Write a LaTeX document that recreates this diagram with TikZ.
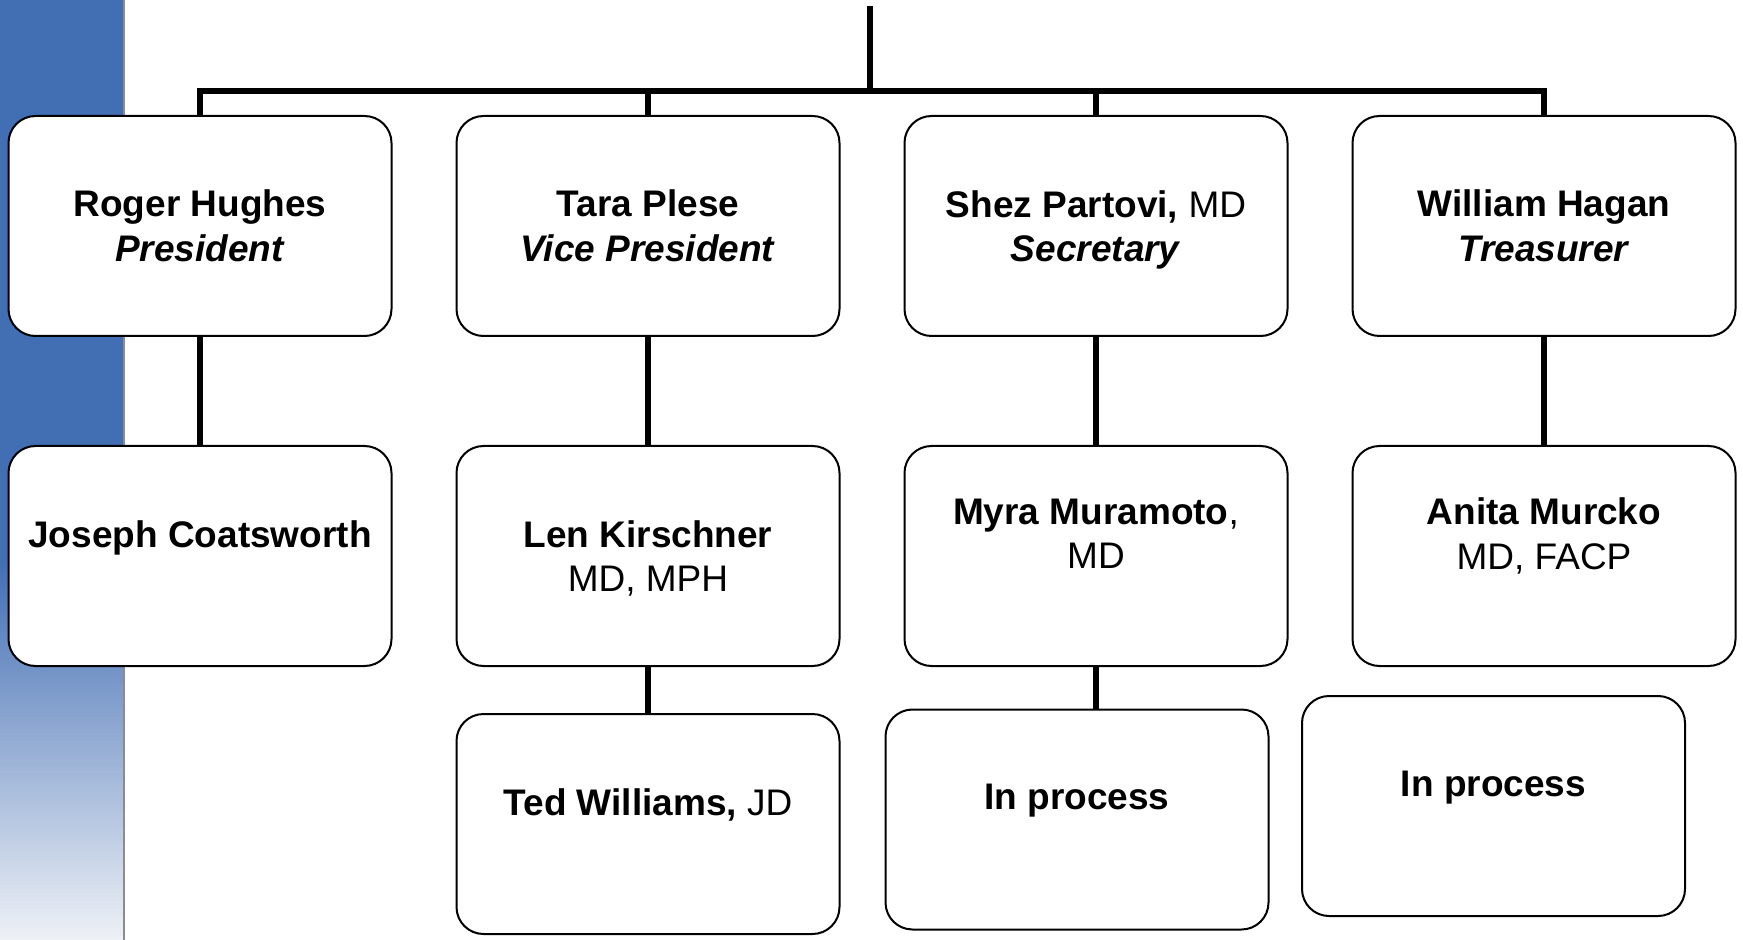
\documentclass[tikz,border=0pt]{standalone}
\usepackage{fontspec}
\setmainfont{Liberation Sans}
\definecolor{bartop}{RGB}{66,110,180}
\definecolor{barlow}{RGB}{238,241,246}

\begin{document}
\begin{tikzpicture}[x=0.5pt,y=-0.5pt,
  orgbox/.style={draw,line width=1pt,rounded corners=13.5pt,fill=white,
    minimum width=191.5pt,minimum height=110pt,inner sep=0pt,align=center,
    font=\fontsize{18.5}{22.25}\selectfont},
  link/.style={line width=3pt}]
 \useasboundingbox (0,0) rectangle (1743,940);
 \fill[bartop] (0,0) rectangle (123,560); %side bar
 \shade[top color=bartop,bottom color=barlow] (0,560) rectangle (123,940);
 \draw[black!45,line width=1pt] (124,0)--(124,940);

 \coordinate (top) at (870,6); %stem top
 \coordinate (bar) at (870,91); %stem meets bar

 %officers
 \node[orgbox] (pres) at (200,226) {\textbf{Roger Hughes}\\\textbf{\textit{President}}};
 \node[orgbox] (vp) at (648,226) {\textbf{Tara Plese}\\\textbf{\textit{Vice President}}};
 \node[orgbox] (sec) at (1096,226) {\textbf{Shez Partovi,} MD\\\smash{\textbf{\textit{Secretary}}}};
 \node[orgbox] (treas) at (1544,226) {\textbf{William Hagan}\\\textbf{\textit{Treasurer}}};

 %second row
 \node[orgbox] (pres2) at (200,556) {\textbf{Joseph Coatsworth}\\\mbox{}};
 \node[orgbox] (vp2) at (648,556) {\textbf{Len Kirschner}\\\smash{MD, MPH}};
 \node[orgbox] (sec2) at (1096,556) {\textbf{Myra Muramoto}, \\MD\\\mbox{}};
 \node[orgbox] (treas2) at (1544,556) {\textbf{Anita Murcko}\\MD, FACP\\\mbox{}};

 %third row
 \node[orgbox] (vp3) at (648,824) {\textbf{Ted Williams,} JD\\\mbox{}};
 \node[orgbox] (sec3) at (1077,819.5) {\textbf{In process}\\\mbox{}};
 \node[orgbox] (treas3) at (1493.5,806) {\textbf{In process}\\\mbox{}};

 \draw[link] (top)--(bar);
 \draw[link] (pres.north) |- (bar) -| (treas.north);
 \draw[link] (vp.north)--(vp.north |- bar);
 \draw[link] (sec.north)--(sec.north |- bar);
 \draw[link] (pres.south)--(pres2.north);
 \draw[link] (vp.south)--(vp2.north);
 \draw[link] (sec.south)--(sec2.north);
 \draw[link] (treas.south)--(treas2.north);
 \draw[link] (vp2.south)--(vp3.north);
 \draw[link] (sec2.south)--(sec2.south |- sec3.north);
\end{tikzpicture}
\end{document}
